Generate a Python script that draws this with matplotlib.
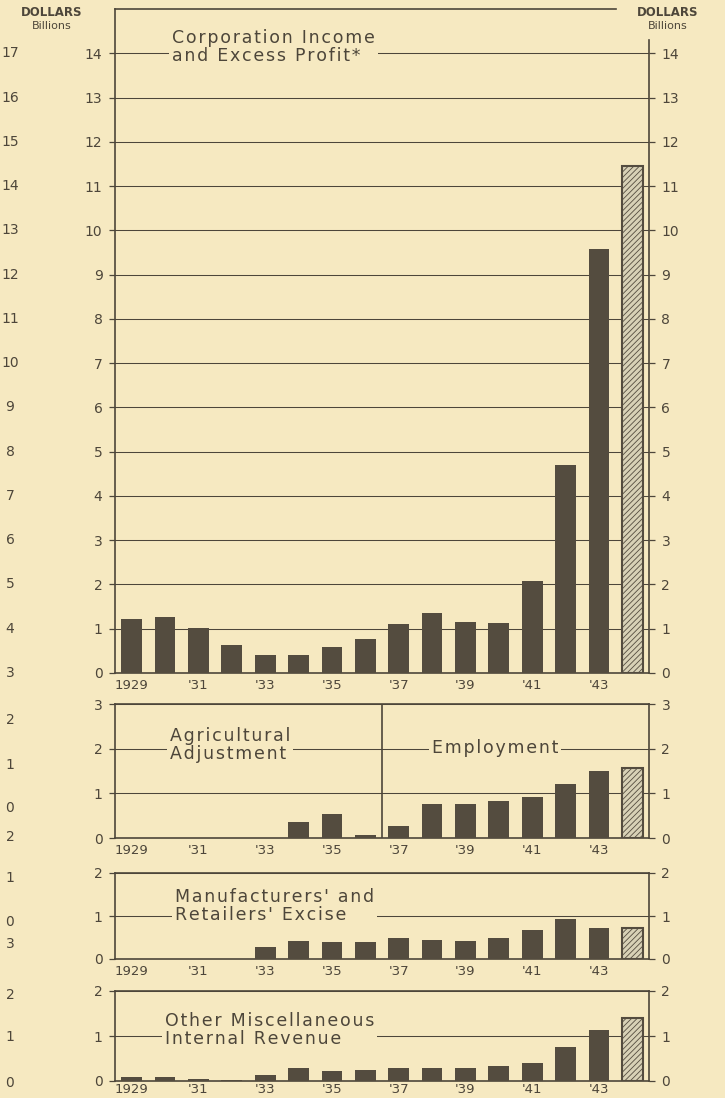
import matplotlib
matplotlib.use('Agg')
import matplotlib.pyplot as plt
import matplotlib.transforms as mtransforms

# Data (billions of dollars), years 1929-1944; last year is an estimate (hatched)
years = list(range(1929, 1945))
year_labels = ['1929', "'31", "'33", "'35", "'37", "'39", "'41", "'43"]

corp_income = [1.23, 1.27, 1.02, 0.64, 0.41, 0.41, 0.59, 0.77,
               1.11, 1.36, 1.16, 1.14, 2.07, 4.71, 9.57, 11.45]
agri_adjust = [0, 0, 0, 0, 0, 0.36, 0.54, 0.07]          # 1929-1936
employment = [0.27, 0.76, 0.76, 0.83, 0.92, 1.21, 1.50, 1.57]  # 1937-1944
excise = [0, 0, 0, 0, 0.28, 0.43, 0.39, 0.39,
          0.48, 0.45, 0.41, 0.49, 0.67, 0.93, 0.72, 0.72]
misc_revenue = [0.08, 0.08, 0.05, 0.02, 0.13, 0.28, 0.22, 0.24,
                0.28, 0.30, 0.30, 0.33, 0.41, 0.76, 1.13, 1.39]

outer_top = ['17', '16', '15', '14', '13', '12', '11', '10',
             '9', '8', '7', '6', '5', '4', '3']
outer_rest = ['2', '1', '0', '2', '1', '0', '3', '2', '1', '0']
outer_rest_y = [720, 765, 808, 837, 878, 922, 944, 995, 1037, 1083]

bg = '#f6e9c1'
ink = '#4d463a'
barc = '#544c3f'
light = '#d8d1b6'

W, H = 725, 1098
plt.rcParams['font.family'] = ['DejaVu Sans']
plt.rcParams['hatch.linewidth'] = 0.6
fig = plt.figure(figsize=(W / 100, H / 100), dpi=100, facecolor=bg)


def add_panel(ytop, ybot):
    return fig.add_axes([115 / W, 1 - ybot / H, (649 - 115) / W, (ybot - ytop) / H])


def setup(ax, ymax, yticks, xpad=4):
    ax.set_facecolor(bg)
    ax.set_xlim(-0.5, 15.5)
    ax.set_ylim(0, ymax)
    ax.set_yticks(yticks)
    ax.set_yticklabels([str(t) for t in yticks])
    ax.tick_params(axis='y', left=True, right=True, labelleft=True, labelright=True,
                   length=4, width=0.9, colors=ink, labelsize=10, pad=5)
    ax.set_xticks(range(0, 16, 2))
    ax.set_xticklabels(year_labels)
    ax.tick_params(axis='x', length=0, pad=xpad, colors=ink, labelsize=9.5)
    for v in yticks[1:]:
        ax.axhline(v, color=ink, lw=0.75, zorder=0)
    for s in ax.spines.values():
        s.set_color(ink)
        s.set_linewidth(1.2)


def draw_bars(ax, start, vals):
    xs = list(range(start, start + len(vals)))
    for x, v in zip(xs, vals):
        if v <= 0:
            continue
        if years[x] == 1944:
            ax.bar(x, v, width=0.62, facecolor=light, edgecolor=barc,
                   hatch='//////', linewidth=1.5, zorder=3)
        else:
            ax.bar(x, v, width=0.62, color=barc, zorder=3)


def spaced(s):
    # wide letter spacing like the lettering of the original
    return '\n'.join('\u200a'.join(line) for line in s.split('\n'))


def label(x, y, s, **kw):
    fig.text(x / W, 1 - y / H, s, color=ink, **kw)


mask = dict(facecolor=bg, edgecolor='none', pad=2)
title_kw = dict(fontsize=12.5, ha='left', va='center', linespacing=1.05, bbox=mask)

# Corporation income panel
ax1 = add_panel(9, 673)
setup(ax1, 15, list(range(0, 15)))
draw_bars(ax1, 0, corp_income)
ax1.spines['top'].set_bounds(-0.5, 14.5)
ax1.spines['right'].set_bounds(0, 14.3)
trans = mtransforms.blended_transform_factory(fig.transFigure, ax1.transData)
for i, s in enumerate(outer_top):
    ax1.text(10 / W, 14 - i, s, transform=trans, ha='center', va='center',
             color=ink, fontsize=10)
label(172, 47, spaced('Corporation Income\nand Excess Profit*'), **title_kw)

# Agricultural adjustment / employment panel
ax2 = add_panel(704, 838)
setup(ax2, 3, [0, 1, 2, 3])
draw_bars(ax2, 0, agri_adjust)
draw_bars(ax2, 8, employment)
ax2.axvline(7.5, color=ink, lw=1.2, zorder=2)
label(170, 745, spaced('Agricultural\nAdjustment'), **title_kw)
label(495, 748, spaced('Employment'), fontsize=12.5, ha='center', va='center', bbox=mask)

# Manufacturers' and retailers' excise panel
ax3 = add_panel(873, 959)
setup(ax3, 2, [0, 1, 2])
draw_bars(ax3, 0, excise)
label(175, 906, spaced("Manufacturers' and\nRetailers' Excise"), **title_kw)

# Other miscellaneous internal revenue panel
ax4 = add_panel(991, 1081)
setup(ax4, 2, [0, 1, 2], xpad=1.5)
draw_bars(ax4, 0, misc_revenue)
label(165, 1030, spaced('Other Miscellaneous\nInternal Revenue'), **title_kw)

# outer scale column and unit headings
for s, y in zip(outer_rest, outer_rest_y):
    label(10, y, s, fontsize=10, ha='center', va='center')
label(52, 13, 'DOLLARS', fontsize=8.5, ha='center', va='center', fontweight='bold')
label(52, 26, 'Billions', fontsize=8, ha='center', va='center')
label(668, 13, 'DOLLARS', fontsize=8.5, ha='center', va='center', fontweight='bold')
label(668, 26, 'Billions', fontsize=8, ha='center', va='center')

fig.savefig('out.png', dpi=100, facecolor=bg)
